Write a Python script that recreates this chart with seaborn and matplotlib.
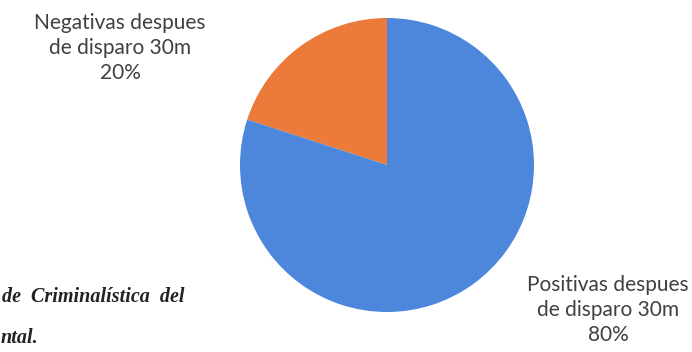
import matplotlib
matplotlib.use("Agg")
import matplotlib.pyplot as plt
import seaborn as sns

# datos del grafico (porcentaje de pruebas)
categorias = ["Negativas despues\nde disparo 30m", "Positivas despues\nde disparo 30m"]
porcentajes = [20, 80]
colores = ["#EB7A3B", "#4C87DC"]

sns.set_theme(style="white")
plt.rcParams['font.family'] = ['Lato', 'DejaVu Sans']

W, H = 692, 352
fig = plt.figure(figsize=(W / 100, H / 100), dpi=100)
fig.patch.set_facecolor("white")

# pie: centro (387,165) px, radio 147 px
cx, cy, r = 387, 165, 147
ax = fig.add_axes([(cx - r) / W, (H - cy - r) / H, 2 * r / W, 2 * r / H])
ax.pie(porcentajes, colors=colores, startangle=90, counterclock=True,
       wedgeprops=dict(linewidth=0))
ax.set_xlim(-1, 1)
ax.set_ylim(-1, 1)
ax.set_aspect("equal")
ax.axis("off")

# etiquetas de datos
pos_etiquetas = [(120, 48), (608, 310)]
for cat, val, (px, py) in zip(categorias, porcentajes, pos_etiquetas):
    fig.text(px / W, 1 - py / H, f"{cat}\n{val}%", ha="center", va="center",
             fontsize=15, color="#404040", linespacing=1.3)

# restos del texto del documento escaneado
fig.text(2 / W, 1 - 297 / H, "de  Criminalística  del", ha="left", va="center",
         fontsize=14.5, fontstyle="italic", fontweight="bold",
         family="Liberation Serif", color="#222222")
fig.text(1 / W, 1 - 338 / H, "ntal.", ha="left", va="center",
         fontsize=14.5, fontstyle="italic", fontweight="bold",
         family="Liberation Serif", color="#222222")

fig.savefig("out.png", dpi=100, facecolor="white")
